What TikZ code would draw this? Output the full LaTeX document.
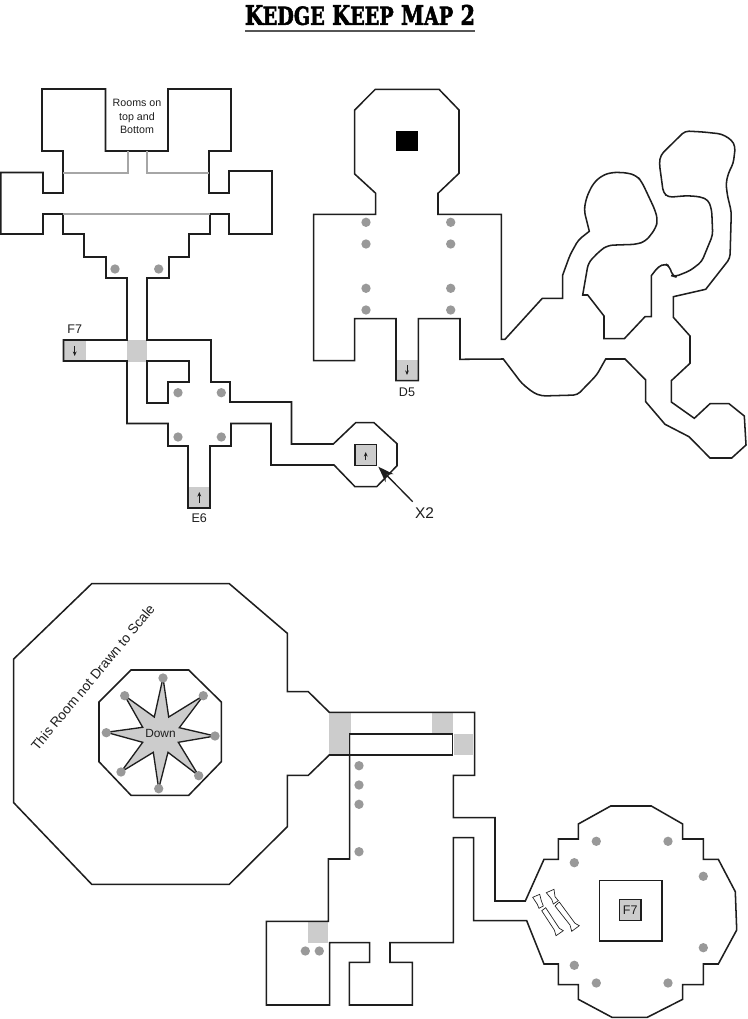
\documentclass[tikz,border=0pt]{standalone}
\usepackage{fontspec}
\usepackage{graphicx}
\usetikzlibrary{arrows.meta}
\setmainfont{Liberation Sans}
\newfontfamily\titlefont[FakeBold=2.4]{DejaVu Serif}
\definecolor{ink}{HTML}{1E1E1E}
\definecolor{pillar}{HTML}{999999}
\definecolor{doorfill}{HTML}{CCCCCC}
\definecolor{faint}{HTML}{A6A6A6}
\tikzset{
  x=0.75pt,y=-0.75pt,
  room/.style={draw=ink,line width=1.15pt,line join=miter,miter limit=3},
  thinwall/.style={draw=faint,line width=1pt},
  door/.style={fill=doorfill,draw=none},
  pit/.style={draw=ink,fill=doorfill,line width=1.15pt},
  mini/.style={draw=ink,line width=0.6pt,-{Stealth[length=3.4pt,width=2.8pt]}},
  label/.style={inner sep=0pt,text=ink,font=\fontsize{9.4pt}{11pt}\selectfont},
  window/.style={draw=ink,line width=0.5pt,fill=white},
}
\newcommand{\pil}[2]{\fill[pillar] (#1,#2) circle[radius=3.5pt];}
\begin{document}
\begin{tikzpicture}
\useasboundingbox (0,0) rectangle (747,1019);
\fill[white] (0,0) rectangle (747,1019);

% title
\node[inner sep=0pt] (title) at (360,15) {\resizebox{172.5pt}{15pt}{\titlefont\bfseries K\kern-0.2pt{\fontsize{9.2pt}{10pt}\selectfont EDGE} K{\fontsize{9.2pt}{10pt}\selectfont EEP} M{\fontsize{9.2pt}{10pt}\selectfont AP} 2}};
\draw[draw=ink!75,line width=1.1pt] (245,31) -- (475,31);

% door shading, upper left
\fill[door] (127,340.5) rectangle (147,361.5);
\fill[door] (64,341) rectangle (85.5,360.5);
\fill[door] (188,487) rectangle (210,508);
\fill[door] (396,359.7) rectangle (418,380.7);
% door shading, lower
\fill[door] (329,712.3) rectangle (350.7,755);
\fill[door] (432.3,712.3) rectangle (453,733.3);
\fill[door] (453.7,734) rectangle (473.3,755);
\fill[door] (307.7,922.3) rectangle (328.3,942.7);

% upper left
\draw[room] (42,89) -- (105.5,89) -- (105.5,151) -- (168,151) -- (168,89) -- (231,89) -- (231,151) -- (209,151) -- (209,193) -- (229,193) -- (229,171) -- (272,171) -- (272,234) -- (229,234) -- (229,214) -- (210,214) -- (210,234) -- (189,234) -- (189,257) -- (169,257) -- (169,278) -- (147,278) -- (147,340) -- (211,340) -- (211,382) -- (230,382) -- (230,402) -- (291.5,402) -- (291.5,444) -- (333.3,444) -- (355.7,422.7) -- (374,422.7) -- (397,443.7) -- (397,465.7) -- (376.7,486.7) -- (355,486.7) -- (334,465) -- (271,465) -- (271,423.5) -- (231,423.5) -- (231,446) -- (210,446) -- (210,508) -- (188,508) -- (188,446) -- (168,446) -- (168,423.5) -- (127,423.5) -- (127,361) -- (63.5,361) -- (63.5,340) -- (127,340) -- (127,278) -- (106,278) -- (106,257) -- (84,257) -- (84,234) -- (63,234) -- (63,214) -- (43,214) -- (43,234) -- (0.8,234) -- (0.8,172.5) -- (43,172.5) -- (43,193) -- (63,193) -- (63,151) -- (42,151) -- cycle;
\draw[room] (147,361) -- (189,361) -- (189,382) -- (168,382) -- (168,403) -- (147,403) -- cycle;
\draw[thinwall] (63,173) -- (128,173) -- (128,151.5);
\draw[thinwall] (147,151.5) -- (147,173) -- (209,173);
\draw[thinwall] (63,214) -- (210,214);

\foreach \p/\q in {115/269,158.7/269,178/392.7,221.3/392.7,178/437,221.3/437}{\pil{\p}{\q}}

\node[pit,inner sep=0pt,minimum size=16pt] (xbox) at (365.7,455) {};
\coordinate (xtop) at (365.7,452);
\coordinate (xbot) at (365.7,460);
\draw[mini] (xbot) -- (xtop);
\coordinate (ftop) at (74.7,346);
\coordinate (fbot) at (74.7,356);
\draw[mini] (ftop) -- (fbot);
\coordinate (etop) at (199.3,492);
\coordinate (ebot) at (199.3,503);
\draw[mini] (ebot) -- (etop);
\coordinate (dtop) at (407,365);
\coordinate (dbot) at (407,375);
\draw[mini] (dtop) -- (dbot);

\node[inner sep=0pt,align=center,text=ink,font=\fontsize{8pt}{10pt}\selectfont] (rooms) at (137,116.5) {Rooms on\\top and\\Bottom};
\node[label] (F7top) at (74.7,329) {F7};
\node[label] (E6) at (199.3,518.5) {E6};
\node[label] (D5) at (407,392) {D5};
\node[label,font=\fontsize{11.6pt}{13pt}\selectfont] (X2) at (424.5,513) {X2};
\coordinate (x2tail) at (412.7,501.7);
\coordinate (x2tip) at (378.3,466.7);
\draw[draw=ink,line width=1pt,-{Stealth[length=12pt,width=8.5pt]}] (x2tail) -- (x2tip);

% upper right
\draw[room] (375.3,89.3) -- (439,89.3) -- (459,110) -- (459,173.3) -- (438,193.3) -- (438,214.3) -- (501.3,214.3) -- (501.3,339.3) -- (505,339.3) -- (542.3,298.3) -- (562.7,298.3) -- (562.7,275) [rounded corners=3pt] -- (570,255) -- (578.3,240) [sharp corners] -- (589.3,231.3) [rounded corners=4pt] -- (584,210) -- (586.7,196.7) -- (593.3,183.3) -- (601.7,175.7) -- (611.7,172.3) -- (626.7,172.7) -- (636.7,175.7) -- (641.7,181.7) -- (650,199.3) -- (655,210) -- (657.7,220) -- (655.7,228.3) -- (646,241) -- (636.7,244.3) -- (607.7,245.3) -- (600,250.7) -- (588.3,262.7) [sharp corners] -- (582.7,295) -- (587.7,295) -- (604,316) -- (604,338.7) -- (624.3,338.7) -- (645,316.7) -- (651.3,316.7) -- (651.3,275.7) [rounded corners=3pt] -- (658.3,266.7) -- (665,263.7) -- (669.3,266) -- (672.7,276) -- (675,276.7) -- (690,270.7) -- (701.7,261.7) -- (712.7,235) -- (711.7,210) -- (708.3,200) -- (700,196.7) -- (686.7,195.7) -- (668.3,197.3) -- (663.3,192.7) -- (659.3,163.3) -- (660.7,155) -- (685,131) -- (703.3,132) -- (721.7,134) -- (731.7,140) -- (735.3,146.7) -- (733.3,163.3) -- (728.3,173.3) -- (726,183.3) -- (727.3,195) -- (731.3,211.7) -- (730,258.3) [sharp corners] -- (705.7,289.3) -- (673.3,296.7) -- (673.3,317.3) -- (690,336) -- (690,363.3) -- (671.3,380.7) -- (671.3,402) -- (694.3,418.3) -- (710,403.7) -- (729,403.7) -- (744.3,416) -- (746,445) -- (731.7,458) -- (710,458) -- (689,436.7) -- (665,424.3) -- (645.7,401.7) -- (645.7,380) -- (625,359) -- (605.7,359) [rounded corners=3pt] -- (596.7,375) -- (577.3,395) -- (541.7,396) -- (533.3,392.7) -- (521.7,383.3) [sharp corners] -- (503.3,359) -- (460,359.3) -- (460,318.7) -- (418.3,318.7) -- (418.3,380.7) -- (396,380.7) -- (396,318.7) -- (354.7,318.7) -- (354.7,360.7) -- (313.7,360.7) -- (313.7,214.3) -- (375.7,214.3) -- (375.7,193.3) -- (354.7,174) -- (354.7,110) -- cycle;
\fill[black] (396,131.3) rectangle (418,151.3);
\foreach \p in {366,450.7}{\foreach \q in {222.3,244,288.3,310}{\pil{\p}{\q}}}

% lower large octagon and corridors
\draw[room] (91.7,583.7) -- (229.3,583.7) -- (287.3,633.3) -- (287.3,691.7) -- (308.3,691.7) -- (329.3,712.3) -- (474.7,712.3) -- (474.7,775.3) -- (453.3,775.3) -- (453.3,817.7) -- (495,817.7) -- (495,901) -- (525.3,901) -- (544,859.3) -- (558.3,859.3) -- (558.3,839) -- (578.3,839) -- (578.3,824) -- (610.7,806) -- (651.3,806) -- (682.7,824) -- (682.7,839) -- (703.3,839) -- (703.3,859.3) -- (718.3,859.3) -- (735.3,891.7) -- (736.7,930) -- (718.3,964) -- (703.3,964) -- (703.3,984.7) -- (682.7,984.7) -- (682.7,999.3) -- (647.3,1017.3) -- (612,1017.3) -- (578.3,999.3) -- (578.3,984.7) -- (558.3,984.7) -- (558.3,964) -- (544,964) -- (526.7,920.7) -- (473.7,920.7) -- (473.7,837.7) -- (453.3,837.7) -- (453.3,942.7) -- (390,942.7) -- (390,962.3) -- (412.3,962.3) -- (412.3,1005) -- (349.3,1005) -- (349.3,962.3) -- (369.7,962.3) -- (369.7,942.7) -- (329.7,942.7) -- (329.7,1005) -- (266.3,1005) -- (266.3,921.3) -- (328.3,921.3) -- (328.3,859) -- (349.7,859) -- (349.7,755) -- (329.3,755) -- (308.3,775.3) -- (287.3,775.3) -- (287.3,826.7) -- (229.3,884.3) -- (91.7,884.3) -- (13.7,802.7) -- (13.7,659) -- cycle;
\draw[room] (349.7,755) -- (349.7,734) -- (452.3,734) -- (452.3,755) -- cycle;

\foreach \q in {765.7,785,804.3,851.7}{\pil{359}{\q}}
\pil{305.3}{951}\pil{319.3}{951}

% pit room
\draw[room] (131,670) -- (188.7,670) -- (221.3,702) -- (221.3,761.7) -- (188.7,795.3) -- (131,795.3) -- (99,761.7) -- (99,702) -- cycle;
\draw[draw=ink,fill=doorfill,line width=1pt,line join=miter,miter limit=8] (163,677.7) -- (168.7,717) -- (203.3,695.7) -- (179.3,727.7) -- (215,736) -- (178.3,742.3) -- (198.7,775.7) -- (168,752.3) -- (158.7,788.7) -- (153.3,752.3) -- (121,772) -- (142.7,742.3) -- (106.3,732.3) -- (142.7,727.3) -- (124.7,695.7) -- (154.3,717) -- cycle;
\foreach \p/\q in {163/678,203.3/695.7,215/736,198.7/775.7,158.7/788.7,121/772,106.3/732.7,124.7/695.7}{\pil{\p}{\q}}
\node[label,font=\fontsize{8.9pt}{10pt}\selectfont] (down) at (160.5,733.5) {Down};
\node[inner sep=0pt,text=ink,rotate=50.2,font=\fontsize{10.2pt}{12pt}\selectfont] (scale) at (92.8,677.5) {This Room not Drawn to Scale};

% round room details
\foreach \p/\q in {596.3/841.3,668/841.3,574.3/862.7,703.3/876.3,703.3/947.7,574.3/965.3,596.3/983,668/983}{\pil{\p}{\q}}
\draw[room] (599.7,880.3) rectangle (662,941);
\node[pit,inner sep=0pt,minimum size=16pt,font=\fontsize{9.4pt}{11pt}\selectfont,text=ink] (f7box) at (630.2,910) {F7};
% windows
\draw[window] (532.7,897.3) -- (539.7,894.3) -- (541.3,900.7) -- (543.3,906) -- (539,908.3) -- (537.3,904.3) -- cycle;
\draw[window] (541.7,910.7) -- (545.7,907.7) -- (559.3,928.3) -- (563.3,930.7) -- (556,935.7) -- (554.3,930) -- cycle;
\draw[window] (546.3,892.7) -- (554,889.3) -- (555,896.7) -- (558.3,900.7) -- (553.3,904) -- (551.7,899.3) -- cycle;
\draw[window] (555,906) -- (559.3,902) -- (575,923.3) -- (579.3,925.7) -- (571.7,931.3) -- (570,925) -- cycle;
\end{tikzpicture}
\end{document}
